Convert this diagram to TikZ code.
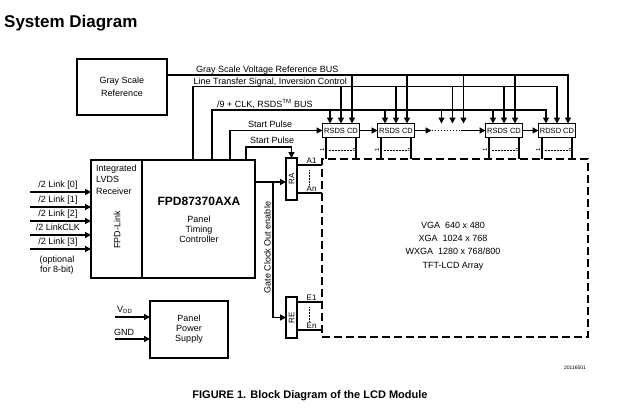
\documentclass[tikz,border=0pt]{standalone}
\usepackage{fontspec}
\setmainfont{Liberation Sans}
\usetikzlibrary{arrows.meta,positioning}

\begin{document}
\begin{tikzpicture}[x=1pt, y=-1pt,
        blk/.style={draw, line width=2pt, outer sep=0pt, inner sep=0pt, align=center, font=\fontsize{9}{10}\selectfont},
        rsdsbox/.style={blk, line width=1.9pt, minimum width=37pt, minimum height=14pt, font=\fontsize{7.5}{8}\selectfont},
        lbl/.style={inner sep=0pt, font=\fontsize{9}{11}\selectfont},
        pinlbl/.style={inner sep=0pt, font=\fontsize{6}{7}\selectfont},
        wire/.style={line width=1.4pt},
        arr/.style={wire, -{Triangle[length=6pt, width=6pt]}}]
        \useasboundingbox (0,0) rectangle (622,413);

        \node[anchor=base west, inner sep=0pt, font=\bfseries\fontsize{17}{20}\selectfont] (title) at (4,27) {System Diagram};

        \node[blk, minimum width=90pt, minimum height=56pt, font=\fontsize{9}{13}\selectfont] (gsr) at (122,87) {Gray Scale\\Reference};
        \node[blk, minimum width=51pt, minimum height=118pt] (lvds) at (116.5,219) {};
        \node[blk, minimum width=113pt, minimum height=118pt, right=0pt of lvds] (tcon) {};
        \node[lbl, anchor=north west, align=left, font=\fontsize{9}{11.5}\selectfont] (lvdstxt) at (96,164.5) {Integrated\\LVDS\\Receiver};
        \node[lbl, rotate=90] (fpdlink) at (117,230) {FPD-Link};
        \node[anchor=base, inner sep=0pt, font=\bfseries\fontsize{12}{14}\selectfont] (partno) at (199,205) {FPD87370AXA};
        \node[lbl, align=center, font=\fontsize{9}{10}\selectfont] (tcontxt) at (199,229) {Panel\\Timing\\Controller};

        \foreach \y/\t [count=\i] in {192/{/2 Link [0]}, 207/{/2 Link [1]}, 221/{/2 Link [2]}, 235/{/2 LinkCLK}, 249/{/2 Link [3]}} {
            \coordinate (in\i) at (30,\y);
            \draw[arr] (in\i) -- (in\i -| lvds.west);
            \node[lbl, anchor=base] (inlbl\i) at (58,\y-5) {\t};
        }
        \node[lbl, align=center, font=\fontsize{9}{10}\selectfont] (optnote) at (57,265) {(optional\\for 8-bit)};

        \node[blk, minimum width=78pt, minimum height=57pt] (psu) at (189,329.5) {Panel\\Power\\Supply};
        \coordinate (vdd) at (115,317);
        \coordinate (gnd) at (115,339);
        \draw[arr] (vdd) -- (vdd -| psu.west);
        \draw[arr] (gnd) -- (gnd -| psu.west);
        \node[lbl, anchor=base west] (vddlbl) at (117,312) {V\textsubscript{DD}};
        \node[lbl, anchor=base west] (gndlbl) at (114,335) {GND};

        \node[draw, line width=2.6pt, dash pattern=on 8pt off 4pt, outer sep=0pt, inner sep=0pt, minimum width=266pt, minimum height=178pt] (lcd) at (455,248) {};
        \node[lbl, align=center, font=\fontsize{9}{13.3}\selectfont] (lcdtxt) at (453,246) {VGA\ \ 640 x 480\\XGA\ \ 1024 x 768\\WXGA\ \ 1280 x 768/800\\TFT-LCD Array};

        \node[rsdsbox] (cd1) at (341,130.5) {RSDS CD};
        \node[rsdsbox, right=18pt of cd1] (cd2) {RSDS CD};
        \node[rsdsbox] (cd3) at (504,130.5) {RSDS CD};
        \node[rsdsbox, right=16pt of cd3] (cd4) {RDSD CD};
        \coordinate (dots) at ([xshift=56.5pt]cd2.north);
        \coordinate (chainA) at ([xshift=17pt]cd2.east);
        \coordinate (chainB) at ([xshift=-25pt]cd3.west);
        \draw[arr] (cd1) -- (cd2);
        \draw[arr] (cd2) -- (chainA);
        \draw[wire, dash pattern=on 1.5pt off 1.5pt] (chainA) -- (chainB);
        \draw[arr] (chainB) -- (cd3);
        \draw[arr] (cd3) -- (cd4);

        \node[blk, line width=1.9pt, minimum width=11pt, minimum height=42pt] (ra) at (291.5,179) {};
        \node[blk, line width=1.9pt, minimum width=11pt, minimum height=41pt] (re) at (291.5,317.5) {};
        \node[lbl, rotate=90, font=\fontsize{8}{9}\selectfont] (ratxt) at (ra) {RA};
        \node[lbl, rotate=90, font=\fontsize{8}{9}\selectfont] (retxt) at (re) {RE};
        \coordinate (ra1) at ([yshift=-7pt]ra.north east);
        \coordinate (ran) at ([yshift=7pt]ra.south east);
        \coordinate (re1) at ([yshift=-5pt]re.north east);
        \coordinate (ren) at ([yshift=8pt]re.south east);
        \foreach \c in {ra1,ran,re1,ren}
            \draw[wire, line width=1.1pt] (\c) -- (\c -| lcd.west);
        \foreach \c/\t in {ra1/A1, ran/An, re1/E1, ren/En}
            \node[lbl, anchor=base west, font=\fontsize{8}{9}\selectfont] (\c lbl) at ([xshift=9.5pt, yshift=2pt]\c) {\t};
        \draw[dash pattern=on 0.7pt off 0.8pt, line width=0.6pt] ([xshift=12pt, yshift=-5pt]ra1) -- ([xshift=12pt, yshift=8pt]ran);
        \draw[dash pattern=on 0.7pt off 0.8pt, line width=0.6pt] ([xshift=12pt, yshift=-5pt]re1) -- ([xshift=12pt, yshift=8pt]ren);

        \coordinate (gate) at ([yshift=37pt]tcon.east);
        \coordinate (gbranch) at ([xshift=18pt]gate);
        \draw[arr] (gate) -- (gate -| ra.west);
        \draw[arr] (gbranch) |- (re.west);
        \node[lbl, rotate=90] (gatelbl) at (267.5,247.5) {Gate Clock Out enable};

        \coordinate (yGS) at (0,75);
        \coordinate (yLT) at (0,86.5);
        \coordinate (yBUS) at (0,110);
        \coordinate (ySPb) at (0,147);
        \coordinate (ltsrc) at ([xshift=51pt]tcon.north west);
        \coordinate (bussrc) at ([xshift=70pt]tcon.north west);
        \coordinate (spasrc) at ([xshift=88pt]tcon.north west);
        \coordinate (spbsrc) at ([xshift=104pt]tcon.north west);
        \draw[arr] (gsr.east |- yGS) -| ([xshift=11pt]cd4.north);
        \draw[arr] (ltsrc) -- (ltsrc |- yLT) -| (cd4.north);
        \draw[arr] (bussrc) -- (bussrc |- yBUS) -| ([xshift=-11pt]cd4.north);
        \draw[arr] (spasrc) |- (cd1.west);
        \draw[arr] (spbsrc) -- (spbsrc |- ySPb) -| (ra.north);
        \foreach \t in {cd1.north, cd2.north, dots, cd3.north} {
            \draw[arr] ([xshift=11pt]\t |- yGS) -- ([xshift=11pt]\t);
            \draw[arr] (\t |- yLT) -- (\t);
            \draw[arr] ([xshift=-11pt]\t |- yBUS) -- ([xshift=-11pt]\t);
        }
        \node[lbl, anchor=base west] (gslbl) at (196,72) {Gray Scale Voltage Reference BUS};
        \node[lbl, anchor=base west] (ltlbl) at (193.5,84) {Line Transfer Signal, Inversion Control};
        \node[lbl, anchor=base west] (buslbl) at (217,107) {/9 + CLK, RSDS\textsuperscript{TM} BUS};
        \node[lbl, anchor=base west] (spalbl) at (248,127.5) {Start Pulse};
        \node[lbl, anchor=base west] (spblbl) at (250,143) {Start Pulse};

        \foreach \b in {cd1,cd2,cd3,cd4} {
            \draw[wire, line width=1.1pt] ([xshift=3.5pt]\b.south west) -- ([xshift=3.5pt]\b.south west |- lcd.north);
            \draw[wire, line width=1.1pt] ([xshift=-3.5pt]\b.south east) -- ([xshift=-3.5pt]\b.south east |- lcd.north);
            \draw[dash pattern=on 0.7pt off 0.8pt, line width=0.6pt] ([xshift=6pt, yshift=-12.5pt]\b.south west) -- ([xshift=-8pt, yshift=-12.5pt]\b.south east);
            \node[pinlbl, rotate=90] (\b first) at ([xshift=-0.5pt, yshift=-12.5pt]\b.south west) {1};
            \node[pinlbl, rotate=90] (\b last) at ([xshift=-5pt, yshift=-12.5pt]\b.south east) {n};
        }

        \node[anchor=base, inner sep=0pt, font=\bfseries\fontsize{11}{13}\selectfont] (caption) at (310,398) {FIGURE 1. Block Diagram of the LCD Module};
        \node[pinlbl, font=\fontsize{5}{6}\selectfont] (figid) at (575,368) {20116501};
    \end{tikzpicture}
\end{document}
